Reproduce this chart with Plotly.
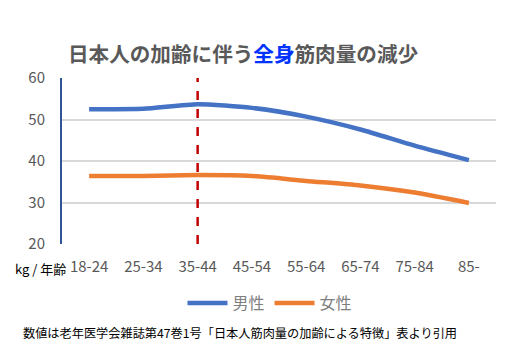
import plotly.graph_objects as go

categories = ["18-24", "25-34", "35-44", "45-54", "55-64", "65-74", "75-84", "85-"]
male = [52.5, 52.6, 53.7, 52.8, 50.7, 47.6, 43.7, 40.2]
female = [36.4, 36.4, 36.6, 36.4, 35.2, 34.1, 32.4, 29.9]
y_ticks = [20, 30, 40, 50, 60]
marker_category = "35-44"

font = "Noto Sans CJK JP, Noto Sans, sans-serif"

L, R, T, B = 62, 24, 78, 114
PW, PH = 520 - L - R, 358 - T - B

def px(x):
    return (x - L) / PW

def py(y):
    return (358 - B - y) / PH

fig = go.Figure()
fig.add_trace(go.Scatter(x=categories, y=male, name="男性", mode="lines",
                         line=dict(color="#4472C4", width=4.5, shape="spline", smoothing=0.6)))
fig.add_trace(go.Scatter(x=categories, y=female, name="女性", mode="lines",
                         line=dict(color="#ED7D31", width=4.5, shape="spline", smoothing=0.6)))

fig.add_shape(type="line", xref="x", yref="y", x0=marker_category, x1=marker_category,
              y0=20, y1=60, line=dict(color="#C00000", width=2.5, dash="dash"), layer="above")

fig.update_layout(
    width=520, height=358,
    margin=dict(l=L, r=R, t=T, b=B, autoexpand=False),
    plot_bgcolor="white", paper_bgcolor="white",
    font=dict(family=font, color="#595959", size=15),
    title=dict(text="<b>日本人の加齢に伴う<span style='color:#0033FF'>全身</span>筋肉量の減少</b>",
               x=68/520, xanchor="left", y=1-55/358, yanchor="middle",
               font=dict(size=20.6, color="#595959", family=font)),
    xaxis=dict(type="category", categoryorder="array", categoryarray=categories,
               showgrid=False, showline=False, zeroline=False, ticks="",
               ticklabelstandoff=12,
               tickfont=dict(size=15, color="#595959"), range=[-0.5, 7.5]),
    yaxis=dict(range=[20, 60], tickvals=y_ticks, showgrid=True, gridcolor="#D9D9D9", gridwidth=1.5,
               showline=True, linecolor="#2F5597", linewidth=2, zeroline=False, ticks="",
               ticklabelstandoff=12,
               tickfont=dict(size=15, color="#595959")),
    showlegend=True,
    legend=dict(orientation="h", x=px(270), xanchor="center", y=py(303), yanchor="middle",
                font=dict(size=16, color="#7F7F7F"),
                itemwidth=40, bgcolor="rgba(0,0,0,0)"),
    annotations=[
        dict(text="kg / 年齢", xref="paper", yref="paper", x=px(68), y=py(268),
             xanchor="right", yanchor="middle", showarrow=False,
             font=dict(size=13, color="black", family=font)),
        dict(text="数値は老年医学会雑誌第47巻1号「日本人筋肉量の加齢による特徴」表より引用",
             xref="paper", yref="paper", x=px(21), y=py(333),
             xanchor="left", yanchor="middle", showarrow=False,
             font=dict(size=12.2, color="black", family=font)),
    ],
)

fig.write_html("out.html", config={"displayModeBar": False},
               post_script="document.body.style.margin='0';")
